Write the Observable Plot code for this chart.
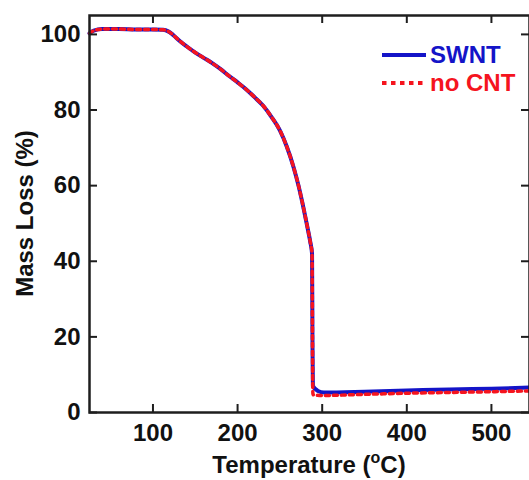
<!DOCTYPE html>
<html><head><meta charset="utf-8">
<script src="https://cdn.jsdelivr.net/npm/d3@7"></script>
<script src="https://cdn.jsdelivr.net/npm/@observablehq/plot@0.6"></script>
<style>html,body{margin:0;padding:0;background:#fff;overflow:hidden}</style>
</head><body><div id="chart"></div>
<script>
// ---- data ----
const swntTemp = [25, 30, 40, 60, 80, 100, 112, 118, 122, 127, 132, 140, 150, 160, 170, 180, 190, 200, 210, 220, 230, 240, 250, 258, 266, 272, 278, 283, 286, 288, 288.5, 289, 295, 302, 350, 400, 450, 500, 545];
const swntMass = [100.3, 101, 101.4, 101.4, 101.3, 101.3, 101.2, 100.8, 100.2, 99.2, 98.2, 96.8, 95.2, 93.8, 92.4, 90.8, 89, 87.3, 85.5, 83.4, 81.2, 78.2, 74.6, 70.4, 65, 60, 54, 48.5, 45, 42, 20, 7, 5.7, 5.3, 5.5, 5.8, 6.1, 6.3, 6.6];
const noCntTemp = [25, 30, 40, 60, 80, 100, 112, 118, 122, 127, 132, 140, 150, 160, 170, 180, 190, 200, 210, 220, 230, 240, 250, 258, 266, 272, 278, 283, 286, 288, 288.5, 289, 300, 350, 400, 450, 500, 545];
const noCntMass = [100.3, 101, 101.4, 101.4, 101.3, 101.3, 101.2, 100.8, 100.2, 99.2, 98.2, 96.8, 95.2, 93.8, 92.4, 90.8, 89, 87.3, 85.5, 83.4, 81.2, 78.2, 74.6, 70.4, 65, 60, 54, 48.5, 45, 42, 20, 4.7, 4.5, 4.8, 5.1, 5.3, 5.5, 5.7];
const seriesNames = ["SWNT", "no CNT"];
const xTicks = [100, 200, 300, 400, 500];
const yTicks = [0, 20, 40, 60, 80, 100];
const xTitle = ["Temperature (", "o", "C)"];
const yTitle = "Mass Loss (%)";

// ---- layout / style ----
const W = 529, H = 480, mL = 89, mT = 15, mB = 68, mR = 0;
const pw = W - mL - mR, ph = H - mT - mB;
const blue = "#1414c8", red = "#f5141e", ink = "#1e1e1e";
const font = "'Liberation Sans', Arial, Helvetica, sans-serif";

const swnt = swntTemp.map((t, i) => ({t, m: swntMass[i]}));
const noCnt = noCntTemp.map((t, i) => ({t, m: noCntMass[i]}));

const plot = Plot.plot({
  width: W, height: H,
  marginLeft: mL, marginRight: mR, marginTop: mT, marginBottom: mB,
  style: {fontFamily: font, fontWeight: "bold", fontSize: "24px", color: "#111", background: "#fff"},
  x: {domain: [25, 545], label: null},
  y: {domain: [0, 105], label: null},
  marks: [
    Plot.line(swnt, {x: "t", y: "m", stroke: blue, strokeWidth: 4, curve: "monotone-x"}),
    Plot.line(noCnt, {x: "t", y: "m", stroke: red, strokeWidth: 3.5, strokeDasharray: "4,4", curve: "monotone-x"}),
    Plot.ruleX(xTicks, {insetTop: ph - 8, stroke: ink, strokeWidth: 2}),
    Plot.ruleX(xTicks, {insetBottom: ph - 8, stroke: ink, strokeWidth: 2}),
    Plot.ruleY(yTicks, {insetRight: pw - 8, stroke: ink, strokeWidth: 2}),
    Plot.ruleY(yTicks, {insetLeft: pw - 8, stroke: ink, strokeWidth: 2}),
    Plot.frame({stroke: ink, strokeWidth: 2.5}),
    Plot.axisX(xTicks, {tickSize: 0, tickPadding: 11, label: null, fill: "#111"}),
    Plot.axisY(yTicks, {tickSize: 0, tickPadding: 9, label: null, fill: "#111"})
  ]
});
document.getElementById("chart").appendChild(plot);

// ---- titles and legend ----
const svg = d3.select(plot);
const g = svg.append("g").attr("font-family", font).attr("font-weight", "bold").attr("font-size", 24).attr("fill", "#111");
const xt = g.append("text").attr("x", mL + pw / 2).attr("y", 473).attr("text-anchor", "middle");
xt.append("tspan").text(xTitle[0]);
xt.append("tspan").attr("font-size", 16).attr("dy", -10).text(xTitle[1]);
xt.append("tspan").attr("dy", 10).text(xTitle[2]);
g.append("text").attr("transform", `translate(33,${mT + ph / 2}) rotate(-90)`).attr("text-anchor", "middle").text(yTitle);

const lg = g.append("g").attr("text-anchor", "start");
const items = [
  {name: seriesNames[0], color: blue, dash: null, w: 4, y: 55},
  {name: seriesNames[1], color: red, dash: "4.5,4.5", w: 4, y: 83}
];
items.forEach(it => {
  lg.append("line").attr("x1", 382).attr("x2", 426).attr("y1", it.y).attr("y2", it.y)
    .attr("stroke", it.color).attr("stroke-width", it.w).attr("stroke-dasharray", it.dash);
  lg.append("text").attr("x", 430).attr("y", it.y).attr("dy", "0.35em").attr("text-anchor", "start").attr("fill", it.color).text(it.name);
});
</script>
</body></html>
